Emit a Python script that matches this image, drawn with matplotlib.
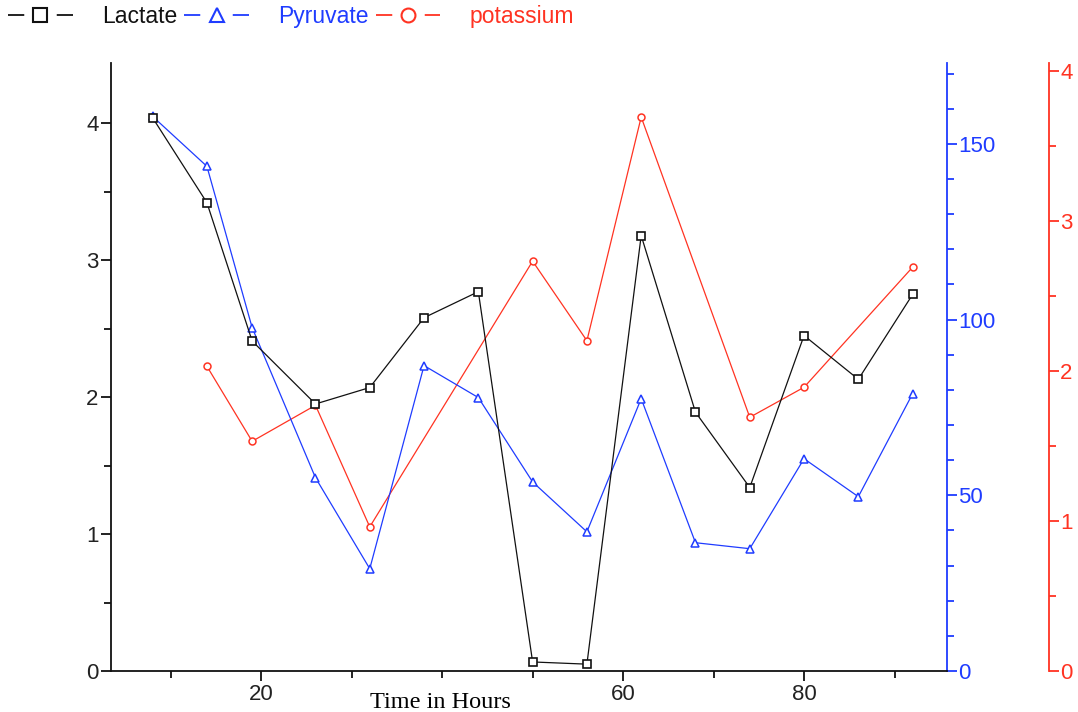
import matplotlib
matplotlib.use("Agg")
import matplotlib.pyplot as plt
from matplotlib.lines import Line2D
import numpy as np

plt.rcParams['font.family'] = ['Liberation Sans', 'DejaVu Sans']

# sampling times (hours) and measured values
hours = [8, 14, 19, 26, 32, 38, 44, 50, 56, 62, 68, 74, 80, 86, 92]
lactate = [4.04, 3.42, 2.41, 1.95, 2.07, 2.58, 2.77, 0.066, 0.05, 3.18, 1.89, 1.34, 2.45, 2.13, 2.75]
pyruvate = [157.8, 143.6, 97.7, 55.0, 29.1, 86.9, 77.8, 53.8, 39.6, 77.5, 36.5, 34.8, 60.4, 49.6, 78.9]
potassium_hours = [14, 19, 26, 32, 50, 56, 62, 74, 80, 92]
potassium = [2.03, 1.53, 1.77, 0.96, 2.73, 2.20, 3.69, 1.69, 1.89, 2.69]

series_names = ['Lactate', 'Pyruvate', 'potassium']

black = '#111111'
blue = '#1f3cff'
red = '#ff3322'
tick_size = 16

fig = plt.figure(figsize=(10.78, 7.12), dpi=100)
ax = fig.add_axes([111 / 1078, 41 / 712, 836 / 1078, 608 / 712])
ax2 = ax.twinx()
ax3 = ax.twinx()

ax.plot(hours, lactate, color=black, lw=0.9, marker='s', ms=6,
        mfc='white', mec=black, mew=1.2)
ax2.plot(hours, pyruvate, color=blue, lw=0.9, marker='^', ms=6,
         mfc='white', mec=blue, mew=1.1)
ax3.plot(potassium_hours, potassium, color=red, lw=0.9, marker='o', ms=5,
         mfc='white', mec=red, mew=1.1)
ax2.set_zorder(ax.get_zorder() - 1)
ax3.set_zorder(ax.get_zorder() - 2)
ax.patch.set_visible(False)

ax.set_xlim(3.4, 95.8)
ax.set_ylim(0, 4.44)
ax2.set_ylim(0, 173)
ax3.set_ylim(0, 4.05)

# main axis: bottom and left spines only
for s in ['top', 'right']:
    ax.spines[s].set_visible(False)
for s in ['left', 'bottom']:
    ax.spines[s].set_color(black)
    ax.spines[s].set_linewidth(1.3)
ax.set_xticks([20, 60, 80])
ax.set_xticks([10, 30, 40, 50, 70, 90], minor=True)
ax.set_yticks([0, 1, 2, 3, 4])
ax.set_yticks(np.arange(0.5, 4.5, 1.0), minor=True)
ax.tick_params(which='major', length=7, width=1.3, color=black, labelsize=tick_size,
               labelcolor='#222222', pad=2)
ax.tick_params(which='minor', length=5, width=1.3, color=black)

# pyruvate axis in blue
for s in ['top', 'left', 'bottom']:
    ax2.spines[s].set_visible(False)
ax2.spines['right'].set_color(blue)
ax2.spines['right'].set_linewidth(1.3)
ax2.set_yticks([0, 50, 100, 150])
ax2.set_yticks([v for v in range(10, 180, 10) if v % 50], minor=True)
ax2.tick_params(which='major', length=7, width=1.3, color=blue, labelcolor=blue,
                labelsize=tick_size, pad=1)
ax2.tick_params(which='minor', length=5, width=1.3, color=blue)

# potassium axis in red, offset to the right
for s in ['top', 'left', 'bottom']:
    ax3.spines[s].set_visible(False)
ax3.spines['right'].set_position(('axes', 1.122))
ax3.spines['right'].set_color(red)
ax3.spines['right'].set_linewidth(1.3)
ax3.set_yticks([0, 1, 2, 3, 4])
ax3.set_yticks(np.arange(0.5, 4.0, 1.0), minor=True)
ax3.tick_params(which='major', length=7, width=1.3, color=red, labelcolor=red,
                labelsize=tick_size, pad=1)
ax3.tick_params(which='minor', length=5, width=1.3, color=red)

fig.text(440 / 1078, 20 / 712, 'Time in Hours', family=['Liberation Serif', 'DejaVu Serif'],
         fontsize=17.5, ha='center', va='top', color='black')

# legend keys: short dash, marker, short dash (dashes are scaled by lw)
handles = [
    Line2D([], [], color=c, lw=1.3, dashes=(9, 18), marker=m, ms=10,
           mfc='white', mec=c, mew=1.5)
    for c, m in [(black, 's'), (blue, '^'), (red, 'o')]
]
leg = fig.legend(handles, series_names,
                 loc='upper left', bbox_to_anchor=(-0.005, 1.012), ncol=3, frameon=False,
                 fontsize=16.5, handlelength=2.8, handletextpad=1.3, columnspacing=0.3,
                 borderaxespad=0.2, numpoints=1)
for text, c in zip(leg.get_texts(), [black, blue, red]):
    text.set_color(c)

fig.savefig('out.png', dpi=100)
